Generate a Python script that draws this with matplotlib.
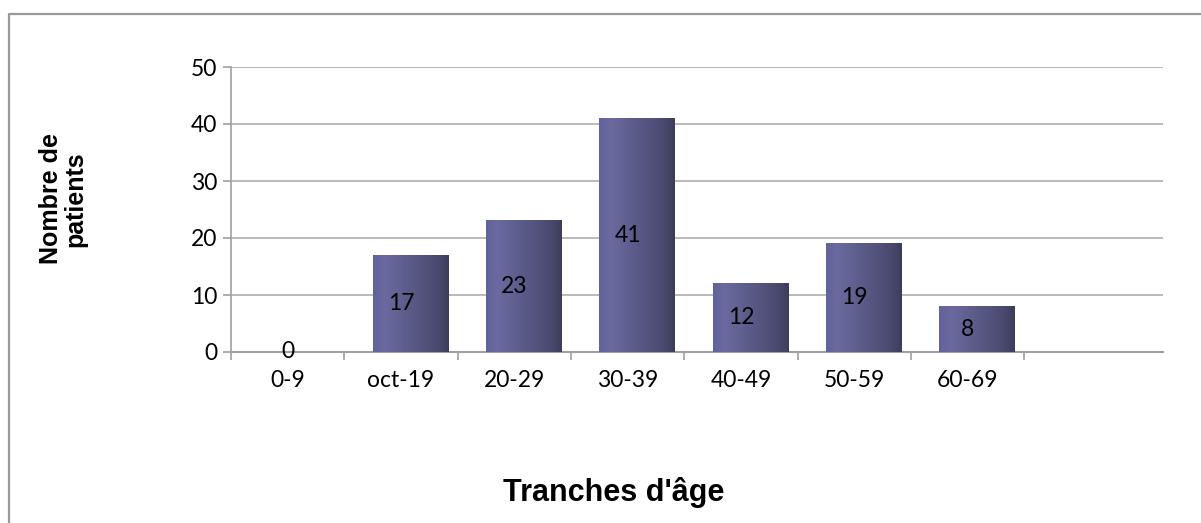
import numpy as np
import matplotlib
matplotlib.use("Agg")
import matplotlib.pyplot as plt
from matplotlib.lines import Line2D
from matplotlib.colors import LinearSegmentedColormap

categories = ["0-9", "oct-19", "20-29", "30-39", "40-49", "50-59", "60-69"]
patients = [0, 17, 23, 41, 12, 19, 8]
y_ticks = [0, 10, 20, 30, 40, 50]

W, H = 1201, 523
fig = plt.figure(figsize=(W / 100, H / 100), dpi=100)
fig.patch.set_facecolor("white")

ax = fig.add_axes([231 / W, 1 - 352 / H, (1163 - 231) / W, (352 - 67) / H])
ax.set_facecolor("white")

tick_font = "Lato"
fs = 16.5
xpos = np.arange(len(categories)) + 0.5
bar_offset = 0.085
bars = ax.bar(xpos + bar_offset, patients, width=0.67, color="#55557f", zorder=2)

cmap = LinearSegmentedColormap.from_list(
    "cyl", [(0.0, "#62629a"), (0.15, "#6a6aa0"), (0.5, "#5a5a88"), (0.85, "#4a4a70"), (1.0, "#3d3d5a")])
grad = np.linspace(0, 1, 256).reshape(1, -1)
for p in bars:
    if p.get_height() > 0:
        ax.imshow(grad, cmap=cmap, aspect="auto", zorder=3,
                  extent=[p.get_x(), p.get_x() + p.get_width(), 0, p.get_height()])

for x, v in zip(xpos, patients):
    ax.text(x, v / 2, str(v), ha="center", va="center", fontsize=fs,
            family=tick_font, color="black", zorder=5)

ax.set_xlim(0, 8.224)
ax.set_ylim(0, 50)
ax.set_yticks(y_ticks)
ax.set_yticklabels([str(t) for t in y_ticks], fontsize=fs, family=tick_font)
ax.set_xticks(np.arange(len(categories) + 1))
ax.set_xticklabels([""] * (len(categories) + 1))
ax.set_xticks(xpos, minor=True)
ax.set_xticklabels(categories, minor=True, fontsize=fs, family=tick_font)
ax.tick_params(axis="x", which="minor", length=0, pad=13)
ax.tick_params(axis="x", which="major", length=6, color="#a0a0a0", width=1.2)
ax.tick_params(axis="y", length=6, color="#a0a0a0", width=1.2, pad=4)

ax.yaxis.grid(True, color="#b4b4b4", linewidth=1.3, zorder=0)
ax.set_axisbelow(True)
for s in ["top", "right"]:
    ax.spines[s].set_visible(False)
ax.spines["left"].set_color("#a0a0a0")
ax.spines["bottom"].set_color("#a0a0a0")
ax.spines["left"].set_linewidth(1.2)
ax.spines["bottom"].set_linewidth(1.5)

fig.text(614 / W, 1 - 493 / H, "Tranches d'âge", ha="center", va="center",
         fontsize=22, fontweight="bold", family="Liberation Sans")
fig.text(63 / W, 1 - 199 / H, "Nombre de\npatients", ha="center", va="center",
         rotation=90, fontsize=18, fontweight="bold", family="Liberation Sans",
         linespacing=1.05, multialignment="center")

# outer chart frame (left and top edges)
fig.add_artist(Line2D([8.5 / W, 8.5 / W, 1.0], [0.0, 1 - 14 / H, 1 - 14 / H],
                      transform=fig.transFigure, color="#9a9a9a", linewidth=1.6))

fig.savefig("out.png", dpi=100)
